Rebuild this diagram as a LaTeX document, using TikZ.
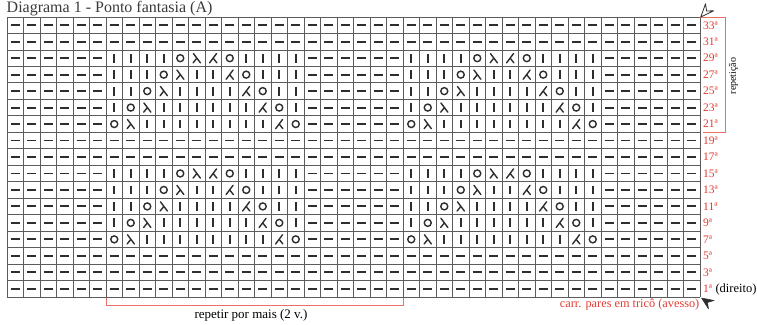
\documentclass[tikz,border=0pt]{standalone}
\usepackage{fontspec}
\setmainfont{Liberation Serif}
\definecolor{gridc}{HTML}{5C5C5C}
\definecolor{symc}{HTML}{2E2E2E}
\definecolor{labred}{HTML}{E23B32}
\definecolor{brred}{HTML}{E8706A}
\definecolor{titlec}{HTML}{3A3A3A}
\tikzset{
  symline/.style={draw=symc,line width=1.9pt},
  symthin/.style={draw=symc,line width=1.4pt,line cap=round},
  gridline/.style={draw=gridc,line width=0.8pt},
  rowlab/.style={text=labred,font=\fontsize{11.5}{13}\selectfont,inner sep=0pt},
  bracketline/.style={draw=brred,line width=0.9pt},
  notelab/.style={inner sep=0pt,font=\fontsize{12.5}{14}\selectfont},
}
% symbols: #1 = x, #2 = y (cell centre)
\newcommand\symd[2]{\draw[symline,shift={({#1},{#2})}] (-4.7,0)--(4.7,0);}
\newcommand\symb[2]{\draw[symline,shift={({#1},{#2})}] (0,-4.4)--(0,4.4);}
\newcommand\symo[2]{\draw[symthin,shift={({#1},{#2})}] (0,0) circle[radius=3.5];}
\newcommand\syml[2]{\draw[symthin,shift={({#1},{#2})}] (-3.3,-4.6)--(3.6,4.6) (0.1,0)--(-3.6,4.6);}
\newcommand\symr[2]{\draw[symthin,shift={({#1},{#2})}] (3.3,-4.6)--(-3.6,4.6) (-0.1,0)--(3.6,4.6);}
% a pattern row: #1 = row index from top, #2 = list of 12 symbols
\newcommand\patrow[2]{%
  \foreach \s [count=\k] in {#2}{%
    \csname sym\s\endcsname{7+(5.5+\k)*16.5}{17+(#1+0.5)*16.47}%
    \csname sym\s\endcsname{7+(23.5+\k)*16.5}{17+(#1+0.5)*16.47}%
  }%
  \foreach \o in {0,18,36}{\foreach \i in {1,...,6}{%
    \symd{7+(\o+\i-0.5)*16.5}{17+(#1+0.5)*16.47}}}%
}
\begin{document}
\begin{tikzpicture}[x=1pt,y=-1pt]
\useasboundingbox (0,0) rectangle (757,324);
% title
\node[anchor=base west,inner sep=0pt,text=titlec,font=\fontsize{16}{18}\selectfont] (title) at (6.5,12.7) {Diagrama 1 - Ponto fantasia (A)};
% grid
\foreach \i in {0,...,42}{\draw[gridline] ({7+\i*16.5},17) -- ({7+\i*16.5},297);}
\foreach \j in {0,...,17}{\draw[gridline] (7,{17+\j*16.47}) -- (700,{17+\j*16.47});}
% plain rows
\foreach \j in {0,1,7,8,14,15,16}{\foreach \i in {1,...,42}{\symd{7+(\i-0.5)*16.5}{17+(\j+0.5)*16.47}}}
% pattern rows
\foreach \j in {2,9}{\patrow{\j}{b,b,b,b,o,l,r,o,b,b,b,b}}
\foreach \j in {3,10}{\patrow{\j}{b,b,b,o,l,b,b,r,o,b,b,b}}
\foreach \j in {4,11}{\patrow{\j}{b,b,o,l,b,b,b,b,r,o,b,b}}
\foreach \j in {5,12}{\patrow{\j}{b,o,l,b,b,b,b,b,b,r,o,b}}
\foreach \j in {6,13}{\patrow{\j}{o,l,b,b,b,b,b,b,b,b,r,o}}
% row labels
\foreach \j in {0,...,16}{
  \pgfmathtruncatemacro\lab{33-2*\j}
  \node[rowlab,anchor=base west] (lab\lab) at (703,{17+(\j+0.5)*16.47+3.8}) {\lab ª};
}
\node[notelab,anchor=base west] (dir) at (lab1.base east) {\hspace{3pt}(direito)};
% repeat bracket (right)
\draw[bracketline] (700,17) -- (725,17) -- (725,132.3) -- (703,132.3);
\node[inner sep=0pt,font=\fontsize{10}{11}\selectfont,rotate=90] (rep) at (733.5,76) {repetição};
% repeat bracket (bottom)
\draw[bracketline] (106.5,297.5) -- (106.5,305) -- (403,305) -- (403,297.5);
\node[notelab,anchor=base,font=\fontsize{13}{14}\selectfont] (repbot) at (251,318.5) {repetir por mais (2 v.)};
% bottom note
\node[notelab,anchor=base east,text=labred,font=\fontsize{12.3}{14}\selectfont] (carr) at (699.5,307) {carr. pares em tricô (avesso)};
% arrows
\draw[draw=symc,fill=white,line width=0.8pt,line join=round] (700.8,17) -- (705.5,3.8) -- (706.6,11) -- (713.6,10.8) -- cycle;
\draw[draw=symc,fill=symc,line width=0.5pt,line join=round] (701.5,298) -- (714,300.5) -- (707.5,302.5) -- (708.5,309) -- cycle;
\end{tikzpicture}
\end{document}
